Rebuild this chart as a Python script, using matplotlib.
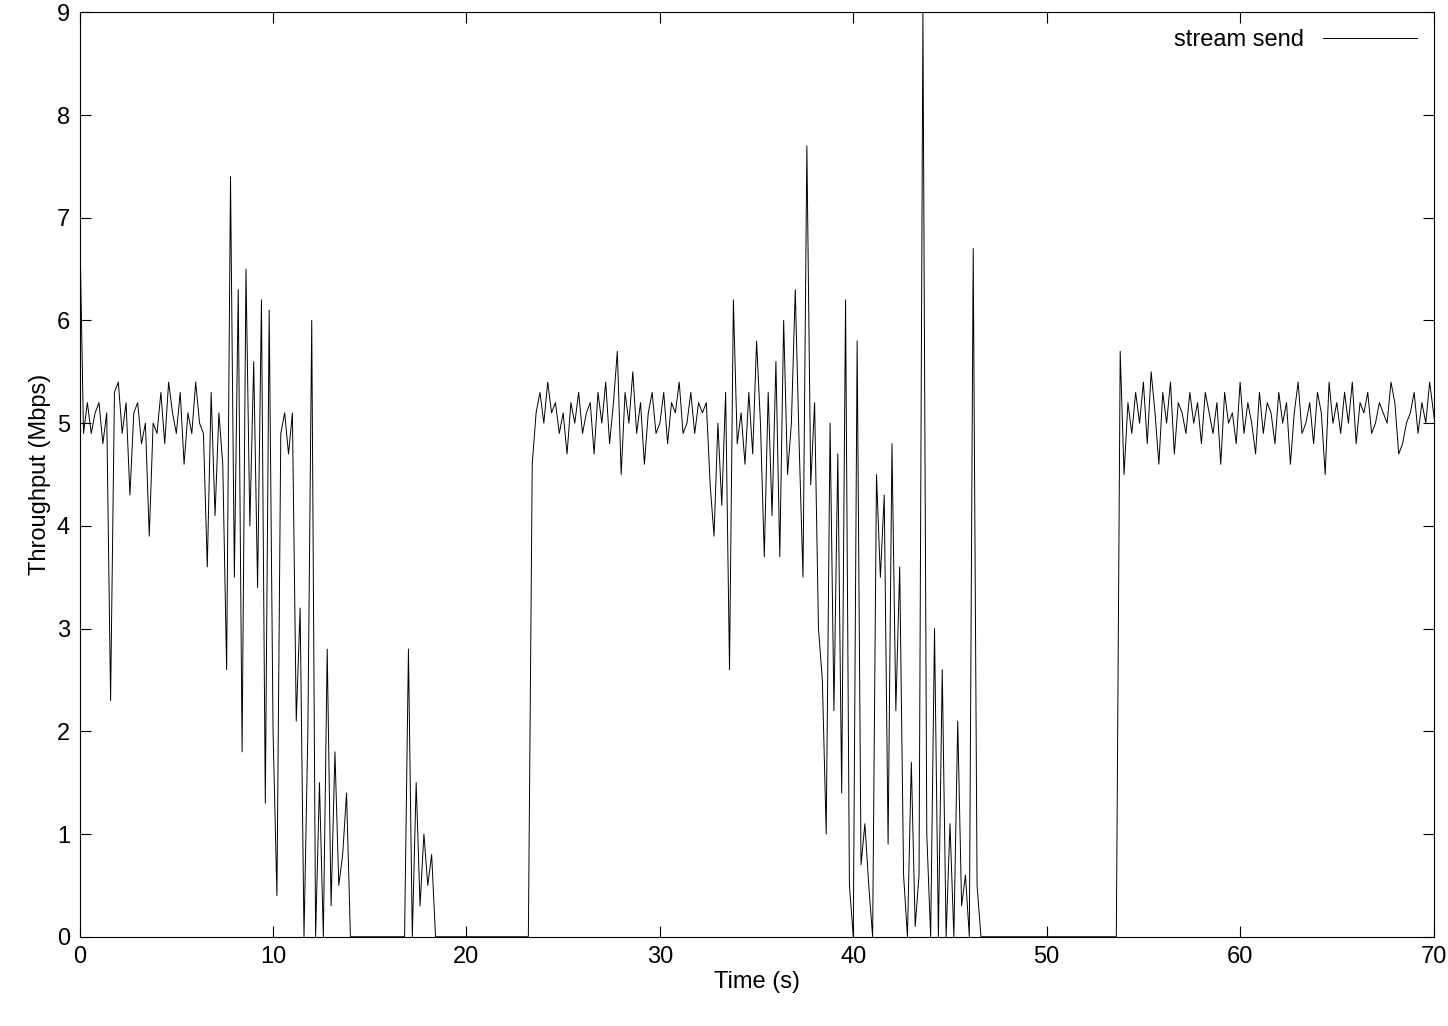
import numpy as np
import matplotlib
matplotlib.use("Agg")
import matplotlib.pyplot as plt

step = 0.2
seg1 = [7.0,4.9,5.2,4.9,5.1,5.2,4.8,5.1,2.3,5.3,5.4,4.9,5.2,4.3,5.1,5.2,4.8,5.0,3.9,5.0,
        4.9,5.3,4.8,5.4,5.1,4.9,5.3,4.6,5.1,4.9,5.4,5.0,4.9,3.6,5.3,4.1,5.1,4.6,2.6,7.4,
        3.5,6.3,1.8,6.5,4.0,5.6,3.4,6.2,1.3,6.1,2.0,0.4,4.9,5.1,4.7,5.1,2.1,3.2,0.0,2.0,
        6.0,0.0,1.5,0.0,2.8,0.3,1.8,0.5,0.8,1.4]
zeros1 = [0.0]*15
seg2 = [2.8,0.0,1.5,0.3,1.0,0.5,0.8]
zeros2 = [0.0]*25
seg3 = [4.6,5.1,5.3,5.0,5.4,5.1,5.2,4.9,5.1,4.7,5.2,5.0,5.3,4.9,5.1,5.2,4.7,5.3,5.0,5.4,
        4.8,5.2,5.7,4.5,5.3,5.0,5.5,4.9,5.2,4.6,5.1,5.3,4.9,5.0,5.3,4.8,5.2,5.1,5.4,4.9,
        5.0,5.3,4.9,5.2,5.1,5.2,4.4,3.9,5.0,4.2,5.3,2.6,6.2,4.8,5.1,4.6,5.3,4.7,5.8,5.0,
        3.7,5.3,4.1,5.6,3.7,6.0,4.5,5.0,6.3,4.8,3.5,7.7,4.4,5.2,3.0,2.5,1.0,5.0,2.2,4.7,
        1.4,6.2,0.5,0.0,5.8,0.7,1.1,0.5,0.0,4.5,3.5,4.3,0.9,4.8,2.2,3.6,0.6,0.0,1.7,0.1,
        0.6,9.0,1.0,0.0,3.0,0.0,2.6,0.0,1.1,0.0,2.1,0.3,0.6,0.0,6.7,0.5]
zeros3 = [0.0]*36
seg4 = [5.7,4.5,5.2,4.9,5.3,5.0,5.4,4.8,5.5,5.1,4.6,5.3,5.0,5.4,4.7,5.2,5.1,4.9,5.3,5.0,
        5.2,4.8,5.3,5.1,4.9,5.2,4.6,5.3,5.0,5.1,4.8,5.4,4.9,5.2,5.0,4.7,5.3,4.9,5.2,5.1,
        4.8,5.3,5.0,5.2,4.6,5.1,5.4,4.9,5.0,5.2,4.8,5.3,5.1,4.5,5.4,5.0,5.2,4.9,5.3,5.0,
        5.4,4.8,5.2,5.1,5.3,4.9,5.0,5.2,5.1,5.0,5.4,5.2,4.7,4.8,5.0,5.1,5.3,4.9,5.2,5.0,
        5.4,5.1,4.8,5.2,4.7]
throughput = seg1 + zeros1 + seg2 + zeros2 + seg3 + zeros3 + seg4
time = np.arange(len(throughput)) * step

plt.rcParams['font.family'] = ['Liberation Sans', 'DejaVu Sans']
fig = plt.figure(figsize=(14.48, 10.26), dpi=100)
ax = fig.add_axes([0.055, 0.087, 0.935, 0.901])
ax.plot(time, throughput, color='black', lw=0.7, label='stream send')
ax.set_xlim(0, 70)
ax.set_ylim(0, 9)
ax.set_xticks(range(0, 71, 10))
ax.set_yticks(range(0, 10))
ax.tick_params(direction='in', top=True, right=True, labelsize=17, length=8, width=0.8, pad=7)
ax.set_xlabel('Time (s)', fontsize=17, labelpad=2)
ax.set_ylabel('Throughput (Mbps)', fontsize=17, labelpad=4)
ax.legend(loc='upper right', fontsize=17, frameon=False, markerfirst=False,
          handlelength=4, borderaxespad=0.3)
fig.savefig('out.png', dpi=100)
